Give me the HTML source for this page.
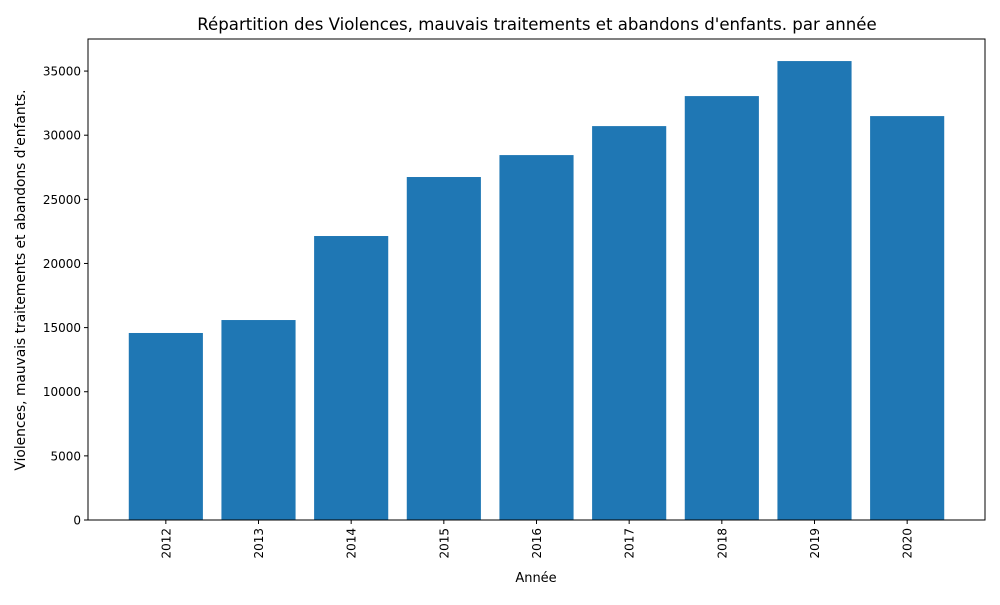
<!DOCTYPE html>
<html><head><meta charset="utf-8"><style>
body{margin:0;background:#fff;font-family:"Liberation Sans","DejaVu Sans",sans-serif}
</style></head><body>
<svg id="chart" width="1000" height="600" xmlns="http://www.w3.org/2000/svg" font-family="'DejaVu Sans','Liberation Sans',sans-serif">
<text x="537" y="30" text-anchor="middle" font-size="16.6">Répartition des Violences, mauvais traitements et abandons d'enfants. par année</text>
<g id="bars"></g><g id="xt"></g><g id="yt"></g>
<rect x="88" y="39" width="897" height="481" fill="none" stroke="#000" stroke-width="1"/>
<text x="536" y="582" text-anchor="middle" font-size="13">Année</text>
<text transform="translate(25,280) rotate(-90)" text-anchor="middle" font-size="13.8">Violences, mauvais traitements et abandons d'enfants.</text>
</svg>
<script>
const categories=["2012","2013","2014","2015","2016","2017","2018","2019","2020"];
const values=[14580,15590,22140,26740,28450,30710,33050,35780,31490];
const yTicks=[0,5000,10000,15000,20000,25000,30000,35000];
const L=88,R=985,T=39,B=520,yMax=37500;
const n=categories.length,span=(n-1+0.8)*1.1;
const x0=-0.4-(n-1+0.8)*0.05;
const X=i=>L+(i-x0)/span*(R-L);
const Y=v=>B-v/yMax*(B-T);
const ns="http://www.w3.org/2000/svg";
function mk(t,a,p){const e=document.createElementNS(ns,t);for(const k in a)e.setAttribute(k,a[k]);p.appendChild(e);return e;}
const bars=document.getElementById('bars'),xt=document.getElementById('xt'),yt=document.getElementById('yt');
categories.forEach((c,i)=>{
 const r=mk('rect',{x:X(i-0.4),y:Y(values[i]),width:X(i+0.4)-X(i-0.4),height:B-Y(values[i]),fill:'#1f77b4'},bars);
 
 
 const tk=mk('line',{x1:X(i),x2:X(i),y1:B,y2:B+4,stroke:'#000'},xt);
 
 
 const t=mk('text',{transform:`translate(${X(i)+4.5},${B+8}) rotate(-90)`,'text-anchor':'end','font-size':12},xt);
 t.textContent=c;
 
 
});
yTicks.forEach(v=>{
 const tk=mk('line',{x1:L-4,x2:L,y1:Y(v),y2:Y(v),stroke:'#000'},yt);
 
 
 const t=mk('text',{x:L-7,y:Y(v)+4.5,'text-anchor':'end','font-size':12},yt);
 t.textContent=v;
 
 
});
</script>
</body></html>
